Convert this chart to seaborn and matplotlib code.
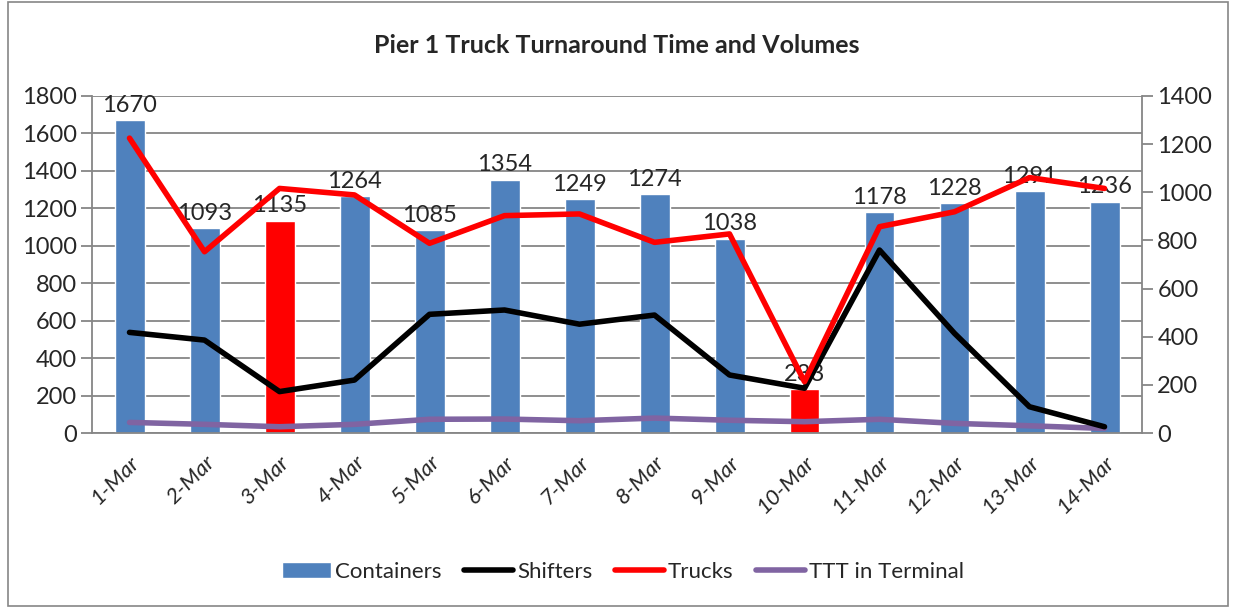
import numpy as np
import pandas as pd
import matplotlib
matplotlib.use("Agg")
import matplotlib.pyplot as plt
import seaborn as sns
from matplotlib.patches import Patch, Rectangle
from matplotlib.lines import Line2D

dates = ["1-Mar", "2-Mar", "3-Mar", "4-Mar", "5-Mar", "6-Mar", "7-Mar",
         "8-Mar", "9-Mar", "10-Mar", "11-Mar", "12-Mar", "13-Mar", "14-Mar"]
containers = [1670, 1093, 1135, 1264, 1085, 1354, 1249, 1274, 1038, 233, 1178, 1228, 1291, 1236]
shifters = [418, 386, 172, 220, 493, 511, 452, 490, 241, 186, 760, 414, 109, 26]
trucks = [1225, 753, 1016, 989, 788, 903, 910, 792, 827, 213, 857, 919, 1061, 1016]
ttt = [44, 36, 26, 36, 57, 58, 51, 62, 53, 47, 57, 40, 30, 19]
highlight = ["3-Mar", "10-Mar"]

blue = "#4F81BD"
grid_col = "#868686"

sns.set_style("white")
plt.rcParams["font.family"] = ["Lato", "DejaVu Sans"]

df = pd.DataFrame({"Date": dates, "Containers": containers,
                   "Shifters": shifters, "Trucks": trucks, "TTT": ttt})
df["pos"] = np.arange(len(df))
bar_colors = ["#FF0000" if d in highlight else blue for d in dates]

fig = plt.figure(figsize=(12.37, 6.09), dpi=100)
ax = fig.add_axes([92 / 1237, 1 - 433 / 609, 1050 / 1237, 337 / 609])

sns.barplot(data=df, x="Date", y="Containers", hue="Date", palette=bar_colors,
            legend=False, width=0.4, saturation=1, ax=ax)
ax.set_ylim(0, 1800)
ax.set_yticks(np.arange(0, 1801, 200))
ax.set_xlim(-0.5, len(dates) - 0.5)
ax.set_xlabel("")
ax.set_ylabel("")
ax.yaxis.grid(True, color=grid_col, linewidth=1.3)
ax.set_axisbelow(True)

# value labels over the bars
for i, v in enumerate(containers):
    ax.annotate(str(v), (i, v), xytext=(0, 3), textcoords="offset points",
                ha="center", va="bottom", fontsize=17, zorder=5)

ax2 = ax.twinx()
sns.lineplot(data=df, x="pos", y="TTT", color="#8064A2", linewidth=4, ax=ax2, sort=False)
sns.lineplot(data=df, x="pos", y="Shifters", color="black", linewidth=4, ax=ax2, sort=False)
sns.lineplot(data=df, x="pos", y="Trucks", color="#FF0000", linewidth=4, ax=ax2, sort=False)
ax2.set_ylim(0, 1400)
ax2.set_yticks(np.arange(0, 1401, 200))
ax2.set_xlim(-0.5, len(dates) - 0.5)
ax2.set_ylabel("")
ax2.set_xlabel("")

for a in (ax, ax2):
    a.spines["top"].set_visible(False)
    for side in ("left", "right", "bottom"):
        a.spines[side].set_color(grid_col)
        a.spines[side].set_linewidth(1.3)
    a.tick_params(axis="y", length=8, width=1.3, color=grid_col, labelsize=17, direction="out")

ax.spines["right"].set_visible(False)
ax2.spines["left"].set_visible(False)
ax2.spines["bottom"].set_visible(False)
ax.tick_params(axis="y", left=True, pad=3)
ax2.tick_params(axis="y", right=True, pad=3)

ax.set_xticks(np.arange(len(dates)))
ax.set_xticklabels(dates, rotation=45, ha="right", rotation_mode="anchor",
                   fontsize=16, style="italic")
ax.tick_params(axis="x", length=0, pad=14)
ax.set_xticks(np.arange(-0.5, len(dates)), minor=True)
ax.tick_params(axis="x", which="minor", length=8, width=1.3, color=grid_col, direction="out")

fig.suptitle("Pier 1 Truck Turnaround Time and Volumes", x=(92 + 1142) / 2 / 1237,
             y=1 - 34 / 609, fontsize=18, fontweight="bold", va="top")

handles = [Patch(facecolor=blue, label="Containers"),
           Line2D([], [], color="black", linewidth=4, label="Shifters"),
           Line2D([], [], color="#FF0000", linewidth=4, label="Trucks"),
           Line2D([], [], color="#8064A2", linewidth=4, label="TTT in Terminal")]
fig.legend(handles=handles, loc="center", bbox_to_anchor=(623 / 1237, 1 - 572 / 609),
           ncol=4, frameon=False, fontsize=16, handlelength=2.2, columnspacing=1.0,
           handletextpad=0.2)

fig.patches.append(Rectangle((8 / 1237, 3 / 609), 1220 / 1237, 604 / 609,
                             transform=fig.transFigure, fill=False,
                             edgecolor=grid_col, linewidth=1.2))

fig.savefig("out.png", dpi=100)
